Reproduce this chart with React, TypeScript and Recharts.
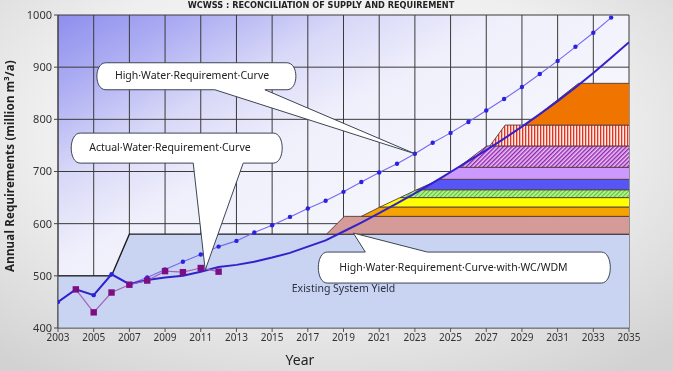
import React from 'react';
import {
  ComposedChart,
  Area,
  Line,
  XAxis,
  YAxis,
  CartesianGrid,
  ReferenceDot,
} from 'recharts';

// ---------- axis ticks ----------
const X_TICKS = [2003, 2005, 2007, 2009, 2011, 2013, 2015, 2017, 2019, 2021, 2023, 2025, 2027, 2029, 2031, 2033, 2035];
const Y_TICKS = [400, 500, 600, 700, 800, 900, 1000];

// ---------- High Water Requirement Curve ----------
const HIGH_YEARS = [2003, 2004, 2005, 2006, 2007, 2008, 2009, 2010, 2011, 2012, 2013, 2014, 2015, 2016, 2017, 2018, 2019, 2020, 2021, 2022, 2023, 2024, 2025, 2026, 2027, 2028, 2029, 2030, 2031, 2032, 2033, 2034];
const HIGH_VALUES = [450, 474, 463, 503, 484, 497, 512, 527, 541, 556, 567, 583, 597, 613, 629, 644, 661, 680, 698, 715, 734, 755, 774, 795, 817, 839, 862, 887, 912, 939, 966, 995];

// ---------- High Water Requirement Curve with WC/WDM ----------
const WC_YEARS = [2003, 2004, 2005, 2006, 2007, 2008, 2009, 2010, 2011, 2012, 2013, 2014, 2015, 2016, 2017, 2018, 2019, 2020, 2021, 2022, 2023, 2024, 2025, 2026, 2027, 2028, 2029, 2030, 2031, 2032, 2033, 2034, 2035];
const WC_VALUES = [450, 474, 463, 503, 484, 492, 497, 500, 508, 517, 521, 527, 535, 544, 556, 568, 585, 602, 620, 639, 658, 678, 699, 720, 741, 763, 786, 810, 835, 861, 889, 918, 948];

// ---------- Actual Water Requirement ----------
const ACTUAL_YEARS = [2004, 2005, 2006, 2007, 2008, 2009, 2010, 2011, 2012];
const ACTUAL_VALUES = [474, 430, 468, 483, 491, 509, 507, 515, 508];

// ---------- Existing System Yield ----------
const YIELD_YEARS = [2003, 2006, 2007, 2035];
const YIELD_VALUES = [500, 500, 580, 580];

// ---------- supply augmentation layers (bottom -> top) ----------
const LAYER_BOTTOMS = [580, 614, 632, 650, 665, 685, 708, 749, 789];
const LAYER_TOPS = [614, 632, 650, 665, 685, 708, 749, 789, 869];
const LAYER_RAMP_START = [2018.05, 2020.0, 2021.05, 2022.17, 2023.1, 2024.41, 2025.44, 2027.2, 2029.2];
const LAYER_RAMP_END = [2019.05, 2021.05, 2022.17, 2023.1, 2024.41, 2025.44, 2027.03, 2028.06, 2032.17];
const LAYER_END_YEAR = 2035;

// styles for layers (kept apart from data)
const LAYER_FILLS = ['#d49b98', '#f4a300', '#ffff00', 'url(#hatchGreen)', '#5656f6', '#cc99ff', 'url(#hatchPurple)', 'url(#stripeRed)', '#f07400'];

// ---------- build series tables ----------
const highData = HIGH_YEARS.map((year, i) => ({ year, v: HIGH_VALUES[i] }));
const wcData = WC_YEARS.map((year, i) => ({ year, v: WC_VALUES[i] }));
const actualData = ACTUAL_YEARS.map((year, i) => ({ year, v: ACTUAL_VALUES[i] }));
const yieldData = YIELD_YEARS.map((year, i) => ({ year, v: YIELD_VALUES[i] }));
const layerData = LAYER_BOTTOMS.map((lo, i) => [
  { year: LAYER_RAMP_START[i], r: [lo, lo] },
  { year: LAYER_RAMP_END[i], r: [lo, LAYER_TOPS[i]] },
  { year: LAYER_END_YEAR, r: [lo, LAYER_TOPS[i]] },
]);

const FONT = '"Noto Sans", "DejaVu Sans", sans-serif';

// ---------- callouts ----------
type CalloutCfg = {
  text: string;
  x0: number; x1: number; y0: number; y1: number;
  tL: number; tR: number; side: 'bottom' | 'top';
  tx: number; ty: number;
};

const calloutPath = (cx: number, cy: number, c: CalloutCfg) => {
  const r = 9;
  const b = 3;
  const X0 = cx + c.x0, X1 = cx + c.x1, Y0 = cy + c.y0, Y1 = cy + c.y1;
  const TL = cx + c.tL, TR = cx + c.tR;
  if (c.side === 'bottom') {
    return `M ${X0 + r} ${Y0} L ${X1 - r} ${Y0} C ${X1 + b} ${Y0} ${X1 + b} ${Y1} ${X1 - r} ${Y1} L ${TR} ${Y1} L ${cx} ${cy} L ${TL} ${Y1} L ${X0 + r} ${Y1} C ${X0 - b} ${Y1} ${X0 - b} ${Y0} ${X0 + r} ${Y0} Z`;
  }
  return `M ${X0 + r} ${Y0} L ${TL} ${Y0} L ${cx} ${cy} L ${TR} ${Y0} L ${X1 - r} ${Y0} C ${X1 + b} ${Y0} ${X1 + b} ${Y1} ${X1 - r} ${Y1} L ${X0 + r} ${Y1} C ${X0 - b} ${Y1} ${X0 - b} ${Y0} ${X0 + r} ${Y0} Z`;
};

const makeCallout = (c: CalloutCfg) => (props: any) => {
  const { cx, cy } = props;
  if (cx == null || cy == null) return <g />;
  return (
    <g>
      <path d={calloutPath(cx, cy, c)} fill="#ffffff" stroke="#3c4454" strokeWidth={1} />
      <text x={cx + c.tx} y={cy + c.ty} fontFamily={FONT} fontSize={10.5} fill="#222">
        {c.text}
      </text>
    </g>
  );
};

const CALLOUT_HIGH: CalloutCfg = {
  text: 'High·Water·Requirement·Curve',
  x0: -318, x1: -119, y0: -91, y1: -64, tL: -200, tR: -150, side: 'bottom', tx: -300, ty: -75,
};
const CALLOUT_ACTUAL: CalloutCfg = {
  text: 'Actual·Water·Requirement·Curve',
  x0: -134, x1: 77, y0: -137, y1: -107, tL: -12, tR: 38, side: 'bottom', tx: -116, ty: -119,
};
const CALLOUT_WC: CalloutCfg = {
  text: 'High·Water·Requirement·Curve·with·WC/WDM',
  x0: -35, x1: 257, y0: 19, y1: 50, tL: 12, tR: 74, side: 'top', tx: -14, ty: 38,
};

const SquareDot = (props: any) => {
  const { cx, cy, index } = props;
  if (cx == null || cy == null) return <g key={`sq-${index}`} />;
  return <rect key={`sq-${index}`} x={cx - 3.2} y={cy - 3.2} width={6.4} height={6.4} fill="#7e0c82" />;
};

export default function App() {
  return (
    <div
      style={{
        position: 'fixed',
        left: 0,
        top: 0,
        width: 673,
        height: 371,
        overflow: 'hidden',
        background: 'radial-gradient(ellipse 75% 80% at 48% 35%, #fbfbfb 0%, #efefef 55%, #d2d2d2 100%)',
      }}
    >
      <ComposedChart width={673} height={371} margin={{ top: 15, right: 44, bottom: 0, left: 0 }}>
        <defs>
          <linearGradient id="plotBg" x1="0" y1="0" x2="1" y2="1">
            <stop offset="0" stopColor="#8e8eee" />
            <stop offset="0.12" stopColor="#adadf3" />
            <stop offset="0.26" stopColor="#d8d8f8" />
            <stop offset="0.4" stopColor="#f0f0fc" />
            <stop offset="1" stopColor="#ffffff" />
          </linearGradient>
          <pattern id="hatchGreen" patternUnits="userSpaceOnUse" width="3" height="3" patternTransform="rotate(45)">
            <rect width="3" height="3" fill="#b6f88c" />
            <rect width="1.2" height="3" fill="#5cc23a" />
          </pattern>
          <pattern id="hatchPurple" patternUnits="userSpaceOnUse" width="3" height="3" patternTransform="rotate(45)">
            <rect width="3" height="3" fill="#eec2f4" />
            <rect width="1.4" height="3" fill="#8c26ae" />
          </pattern>
          <pattern id="stripeRed" patternUnits="userSpaceOnUse" width="3" height="3">
            <rect width="3" height="3" fill="#fde8e4" />
            <rect width="1.3" height="3" fill="#e6321e" />
          </pattern>
        </defs>
        <CartesianGrid stroke="#3a3a3a" strokeWidth={1} fill="url(#plotBg)" fillOpacity={1} />
        <XAxis
          type="number"
          dataKey="year"
          domain={[2003, 2035]}
          ticks={X_TICKS}
          interval={0}
          allowDataOverflow
          height={43}
          tickSize={4}
          tickLine={{ stroke: '#555' }}
          axisLine={{ stroke: '#777' }}
          tick={{ fontSize: 10, fill: '#333', fontFamily: FONT }}
        />
        <YAxis
          type="number"
          domain={[400, 1000]}
          ticks={Y_TICKS}
          interval={0}
          allowDataOverflow
          width={58}
          tickSize={4}
          tickLine={{ stroke: '#444' }}
          axisLine={{ stroke: '#444' }}
          tick={{ fontSize: 11, fill: '#333', fontFamily: FONT }}
        />
        <Area
          data={yieldData}
          dataKey="v"
          type="linear"
          baseValue={400}
          fill="#c8d4f1"
          fillOpacity={1}
          stroke="#1e1e1e"
          strokeWidth={1.4}
          isAnimationActive={false}
        />
        {layerData.map((d, i) => (
          <Area
            key={`layer-${i}`}
            data={d}
            dataKey="r"
            type="linear"
            fill={LAYER_FILLS[i]}
            fillOpacity={1}
            stroke="#553c3c"
            strokeWidth={0.9}
            isAnimationActive={false}
          />
        ))}
        <Line
          data={highData}
          dataKey="v"
          type="linear"
          stroke="#7868ee"
          strokeWidth={1.1}
          dot={{ r: 2.2, fill: '#2a22e0', stroke: 'none' }}
          isAnimationActive={false}
        />
        <Line
          data={wcData}
          dataKey="v"
          type="linear"
          stroke="#3322cc"
          strokeWidth={2}
          dot={false}
          isAnimationActive={false}
        />
        <Line
          data={actualData}
          dataKey="v"
          type="linear"
          stroke="#a262b6"
          strokeWidth={1.2}
          dot={SquareDot}
          isAnimationActive={false}
        />
        <ReferenceDot
          x={2019}
          y={477}
          r={0}
          fill="none"
          stroke="none"
          label={{ value: 'Existing System Yield', position: 'center', fontSize: 10.5, fill: '#2c3040', fontFamily: FONT }}
        />
        <ReferenceDot x={2023} y={734} r={0} ifOverflow="visible" shape={makeCallout(CALLOUT_HIGH)} />
        <ReferenceDot x={2011.25} y={511} r={0} ifOverflow="visible" shape={makeCallout(CALLOUT_ACTUAL)} />
        <ReferenceDot x={2019.55} y={582} r={0} ifOverflow="visible" shape={makeCallout(CALLOUT_WC)} />
      </ComposedChart>
      <svg
        width={673}
        height={371}
        style={{ position: 'absolute', left: 0, top: 0, pointerEvents: 'none' }}
      >
        <text x={321} y={8} textAnchor="middle" fontFamily='"DejaVu Sans", sans-serif' fontWeight="bold" fontSize={8.2} fill="#222">
          WCWSS : RECONCILIATION  OF SUPPLY AND REQUIREMENT
        </text>
        <text
          x={14}
          y={166}
          textAnchor="middle"
          transform="rotate(-90 14 166)"
          fontFamily={FONT}
          fontWeight="bold"
          fontSize={11.5}
          letterSpacing={0.2}
          fill="#222"
        >
          Annual Requirements  (million  m³/a)
        </text>
        <text x={300} y={365} textAnchor="middle" fontFamily={FONT} fontSize={14} fill="#222">
          Year
        </text>
      </svg>
    </div>
  );
}
